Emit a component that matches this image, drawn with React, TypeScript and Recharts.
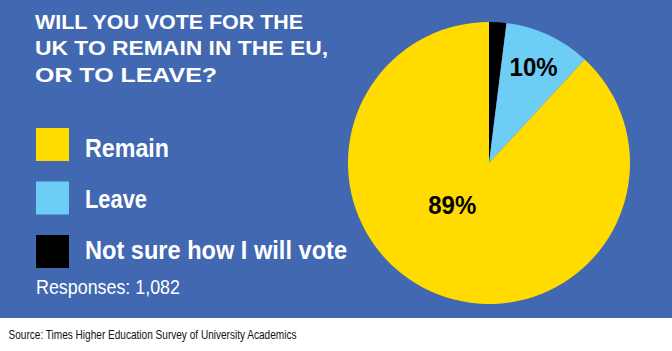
import { PieChart, Pie, Cell } from "recharts";

const categories = ["Not sure how I will vote", "Leave", "Remain"];
const shares = [2, 10, 89];
const colors = ["#000000", "#6dcdf4", "#ffdb00"];
const titleLines = ["WILL YOU VOTE FOR THE", "UK TO REMAIN IN THE EU,", "OR TO LEAVE?"];
const responses = "Responses: 1,082";
const source = "Source: Times Higher Education Survey of University Academics";

const BLUE = "#4268b1";
const RADIAN = Math.PI / 180;
const FONT = "'Liberation Sans', Arial, sans-serif";

const data = categories.map((name, i) => ({ name, value: shares[i] }));

// measured widths so the condensed look of the original is kept
const titleWidths = [268, 293, 182];
const legendWidths = [62 + 22 + 0, 62, 262].map((w, i) => (i === 0 ? 84 : w));

function SliceLabel(props: any) {
  const { cx, cy, midAngle, outerRadius, index, value } = props;
  if (index === 0) return null;
  // big slice label sits nearer the centre, a bit off its mid angle
  const big = index === 2;
  const r = outerRadius * (big ? 0.394 : 0.75);
  const a = big ? midAngle - 20 : midAngle;
  const x = cx + r * Math.cos(-a * RADIAN);
  const y = cy + r * Math.sin(-a * RADIAN);
  return (
    <text
      x={x}
      y={y + 9}
      textAnchor="middle"
      fill="#000"
      fontFamily={FONT}
      fontWeight={700}
      fontSize={26.5}
      textLength={48}
      lengthAdjust="spacingAndGlyphs"
    >
      {Math.round(value)}%
    </text>
  );
}

export default function App() {
  const legendOrder = [2, 1, 0];
  return (
    <div
      style={{
        position: "absolute",
        left: 0,
        top: 0,
        width: 672,
        height: 351,
        background: "#fff",
        overflow: "hidden",
      }}
    >
      <div style={{ position: "absolute", left: 0, top: 0, width: 672, height: 318, background: BLUE }} />
      <PieChart width={672} height={318} style={{ position: "absolute", left: 0, top: 0 }}>
        <Pie
          data={data}
          dataKey="value"
          nameKey="name"
          cx={484}
          cy={158}
          outerRadius={141}
          startAngle={90}
          endAngle={-270}
          stroke="none"
          labelLine={false}
          label={SliceLabel}
          isAnimationActive={false}
        >
          {data.map((d, i) => (
            <Cell key={d.name} fill={colors[i]} />
          ))}
        </Pie>
      </PieChart>
      <svg width={672} height={351} style={{ position: "absolute", left: 0, top: 0 }}>
        {titleLines.map((t, i) => (
          <text
            key={t}
            x={35}
            y={29 + i * 26.4}
            fill="#fff"
            fontFamily={FONT}
            fontWeight={700}
            fontSize={21}
            textLength={titleWidths[i]}
            lengthAdjust="spacingAndGlyphs"
          >
            {t}
          </text>
        ))}
        {legendOrder.map((idx, k) => (
          <g key={categories[idx]}>
            <rect x={36} y={128 + k * 53.5} width={33} height={33} fill={colors[idx]} />
            <text
              x={85}
              y={157.3 + k * 51}
              fill="#fff"
              fontFamily={FONT}
              fontWeight={700}
              fontSize={26.5}
              textLength={legendWidths[k]}
              lengthAdjust="spacingAndGlyphs"
            >
              {categories[idx]}
            </text>
          </g>
        ))}
        <text
          x={36}
          y={294}
          fill="#fff"
          fontFamily={FONT}
          fontSize={21}
          textLength={144}
          lengthAdjust="spacingAndGlyphs"
        >
          {responses}
        </text>
        <text
          x={8.5}
          y={339}
          fill="#111"
          fontFamily={FONT}
          fontSize={12.5}
          textLength={288}
          lengthAdjust="spacingAndGlyphs"
        >
          {source}
        </text>
      </svg>
    </div>
  );
}
